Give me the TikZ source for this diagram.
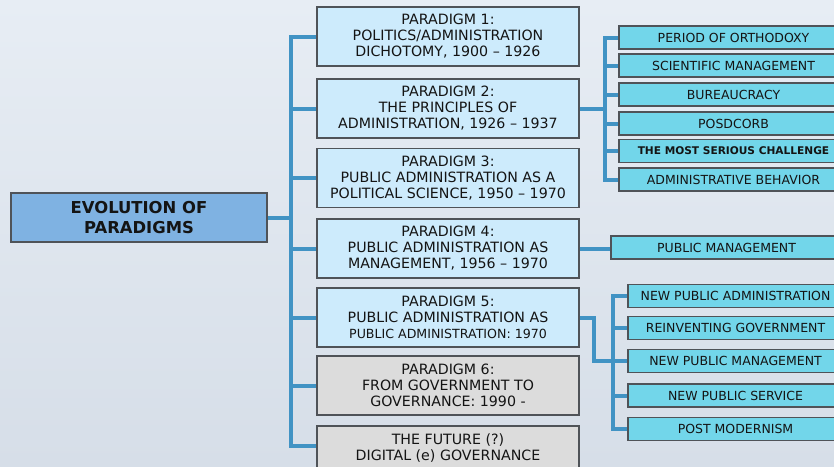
\documentclass[tikz,border=0pt]{standalone}
\usepackage{fontspec}
\setmainfont{DejaVu Sans}
\usetikzlibrary{calc}
\definecolor{bgA}{HTML}{E7EDF4}
\definecolor{bgB}{HTML}{D6DEE8}
\definecolor{lineC}{HTML}{4193C4}
\definecolor{rootF}{HTML}{7FB2E2}
\definecolor{parF}{HTML}{CDEBFC}
\definecolor{grayF}{HTML}{DCDCDC}
\definecolor{subF}{HTML}{72D6EA}
\definecolor{edgeC}{HTML}{4F5358}
\pgfdeclarelayer{back}
\pgfdeclarelayer{mid}
\pgfsetlayers{back,mid,main}
\begin{document}
\begin{tikzpicture}[x=1pt,y=-1pt,
  box/.style={draw=edgeC,line width=1.3pt,inner sep=0pt,align=center,text=black!92},
  rootbox/.style={box,fill=rootF,minimum width=256pt,minimum height=49pt,font=\fontsize{16.4}{19.5}\selectfont\bfseries},
  parbox/.style={box,fill=parF,minimum width=262pt,minimum height=59pt,font=\fontsize{14.2}{16}\selectfont},
  graybox/.style={parbox,fill=grayF},
  subbox/.style={box,fill=subF,minimum height=23pt,font=\fontsize{12.5}{14}\selectfont},
  link/.style={draw=lineC,line width=4pt,line cap=rect}]
\useasboundingbox (0,0) rectangle (834,466);
\begin{pgfonlayer}{back}
\shade[top color=bgA,bottom color=bgB] (0,0) rectangle (834,466);
\end{pgfonlayer}
\clip (0,0) rectangle (834,466);

\node[rootbox] (root) at (139,217.5) {EVOLUTION OF\\PARADIGMS};

\node[parbox] (p1) at (448,36.5) {PARADIGM 1:\\POLITICS/ADMINISTRATION\\DICHOTOMY, 1900 – 1926};
\node[parbox] (p2) at (448,108.5) {PARADIGM 2:\\THE PRINCIPLES OF\\ADMINISTRATION, 1926 – 1937};
\node[parbox] (p3) at (448,178) {PARADIGM 3:\\PUBLIC ADMINISTRATION AS A\\POLITICAL SCIENCE, 1950 – 1970};
\node[parbox] (p4) at (448,248.5) {PARADIGM 4:\\PUBLIC ADMINISTRATION AS\\MANAGEMENT, 1956 – 1970};
\node[parbox] (p5) at (448,317.5) {PARADIGM 5:\\PUBLIC ADMINISTRATION AS\\{\fontsize{12.6}{15}\selectfont PUBLIC ADMINISTRATION: 1970}};
\node[graybox] (p6) at (448,385.5) {PARADIGM 6:\\FROM GOVERNMENT TO\\GOVERNANCE: 1990 -};
\node[graybox,minimum height=44pt] (fut) at (448,448) {THE FUTURE (?)\\DIGITAL (e) GOVERNANCE};

\node[subbox,minimum width=229pt] (r1) at (733.5,37.5) {PERIOD OF ORTHODOXY};
\node[subbox,minimum width=229pt] (r2) at (733.5,65.5) {SCIENTIFIC MANAGEMENT};
\node[subbox,minimum width=229pt] (r3) at (733.5,94.5) {BUREAUCRACY};
\node[subbox,minimum width=229pt] (r4) at (733.5,123.5) {POSDCORB};
\node[subbox,minimum width=229pt,font=\fontsize{10.6}{12}\selectfont\bfseries] (r5) at (733.5,151) {THE MOST SERIOUS CHALLENGE};
\node[subbox,minimum width=229pt] (r6) at (733.5,179.5) {ADMINISTRATIVE BEHAVIOR};

\node[subbox,minimum width=231pt] (pm) at (726.5,247.5) {PUBLIC MANAGEMENT};

\node[subbox,minimum width=215pt] (n1) at (735.5,296) {NEW PUBLIC ADMINISTRATION};
\node[subbox,minimum width=215pt] (n2) at (735.5,328) {REINVENTING GOVERNMENT};
\node[subbox,minimum width=215pt] (n3) at (735.5,361) {NEW PUBLIC MANAGEMENT};
\node[subbox,minimum width=215pt] (n4) at (735.5,395.5) {NEW PUBLIC SERVICE};
\node[subbox,minimum width=215pt] (n5) at (735.5,429) {POST MODERNISM};

\coordinate (T) at (291,0);
\coordinate (T2) at (605,0);
\coordinate (K) at (594,0);
\coordinate (T3) at (613,0);
\coordinate (futs) at ([yshift=2pt]fut.west);

\begin{pgfonlayer}{mid}
\draw[link] (root.east) -- (T |- root.east);
\draw[link] (T |- p1.west) -- (T |- futs);
\foreach \n in {p1,p2,p3,p4,p5,p6}{\draw[link] (T |- \n.west) -- (\n.west);}
\draw[link] (T |- futs) -- (futs);

\draw[link] (p2.east) -- (T2 |- p2.east);
\draw[link] (T2 |- r1.west) -- (T2 |- r6.west);
\foreach \n in {r1,r2,r3,r4,r5,r6}{\draw[link] (T2 |- \n.west) -- (\n.west);}

\draw[link] (p4.east) -- (p4.east -| pm.west);

\draw[link] (p5.east) -- (K |- p5.east) -- (K |- n3.west) -- (n3.west);
\draw[link] (T3 |- n1.west) -- (T3 |- n5.west);
\foreach \n in {n1,n2,n3,n4,n5}{\draw[link] (T3 |- \n.west) -- (\n.west);}
\end{pgfonlayer}
\end{tikzpicture}
\end{document}
